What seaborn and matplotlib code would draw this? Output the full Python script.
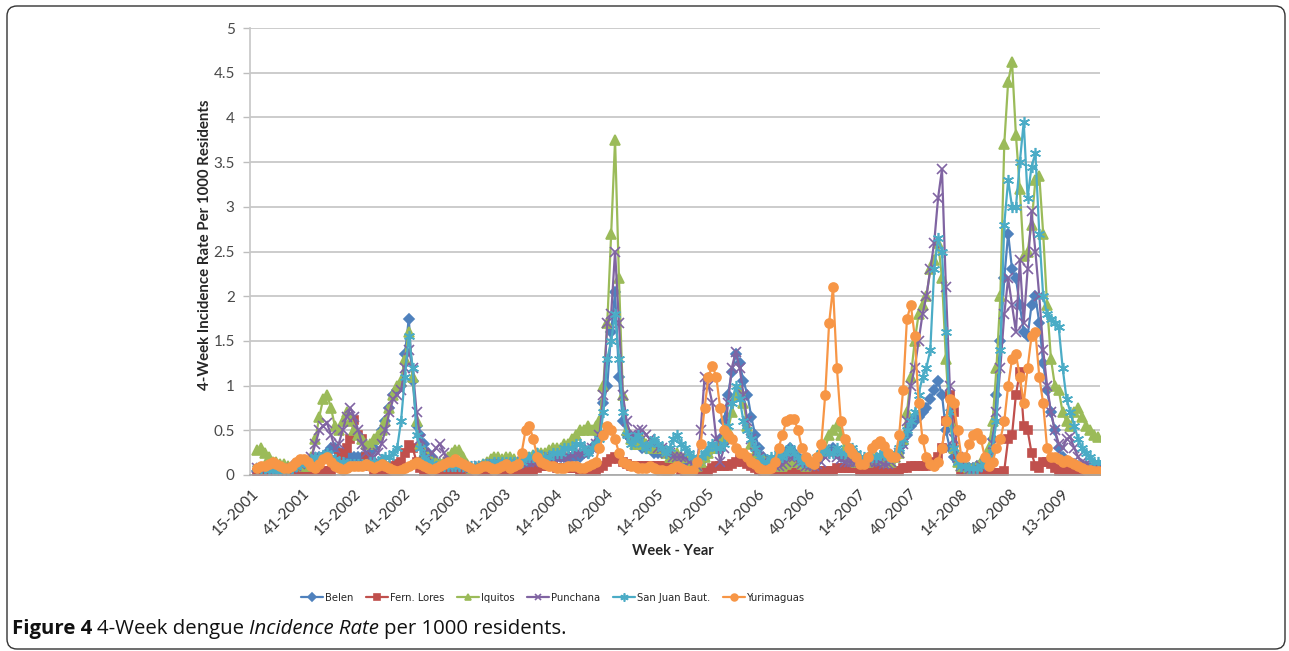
import matplotlib
matplotlib.use('Agg')
import matplotlib.pyplot as plt
from matplotlib.patches import FancyBboxPatch
import pandas as pd
import seaborn as sns

# week index 0 = week 15 of 2001, one value every 2 weeks
WEEKS = list(range(0, 433, 2))
TICK_WEEKS = list(range(0, 417, 26))
TICK_LABELS = ["15-2001", "41-2001", "15-2002", "41-2002", "15-2003", "41-2003",
               "14-2004", "40-2004", "14-2005", "40-2005", "14-2006", "40-2006",
               "14-2007", "40-2007", "14-2008", "40-2008", "13-2009"]

BELEN = [
    0.05, 0.05, 0.05, 0.05, 0.06, 0.06, 0.05, 0.05, 0.05, 0.06, 0.06, 0.08, 0.10,
    0.10, 0.12, 0.15, 0.20, 0.20, 0.25, 0.30, 0.30, 0.25, 0.25, 0.20, 0.20, 0.20,
    0.20, 0.20, 0.20, 0.25, 0.30, 0.40, 0.50, 0.60, 0.75, 0.90, 0.95, 1.00, 1.35,
    1.75, 1.05, 0.55, 0.45, 0.35, 0.25, 0.20, 0.15, 0.12, 0.10, 0.10, 0.10, 0.10,
    0.10, 0.08, 0.08, 0.07, 0.07, 0.08, 0.08, 0.08, 0.10, 0.10, 0.10, 0.10, 0.10,
    0.10, 0.10, 0.12, 0.12, 0.12, 0.15, 0.15, 0.15, 0.15, 0.15, 0.15, 0.18, 0.20,
    0.20, 0.20, 0.18, 0.20, 0.20, 0.20, 0.25, 0.25, 0.30, 0.35, 0.45, 0.80, 1.00,
    1.60, 2.05, 1.10, 0.60, 0.45, 0.40, 0.35, 0.35, 0.30, 0.30, 0.30, 0.25, 0.25,
    0.25, 0.25, 0.20, 0.20, 0.20, 0.15, 0.15, 0.12, 0.10, 0.10, 0.15, 0.20, 0.25,
    0.30, 0.30, 0.40, 0.60, 0.90, 1.15, 1.35, 1.25, 1.05, 0.90, 0.65, 0.45, 0.30,
    0.20, 0.15, 0.12, 0.12, 0.15, 0.20, 0.25, 0.30, 0.25, 0.20, 0.15, 0.12, 0.12,
    0.12, 0.15, 0.20, 0.25, 0.28, 0.30, 0.25, 0.20, 0.18, 0.15, 0.15, 0.15, 0.15,
    0.15, 0.15, 0.15, 0.15, 0.15, 0.15, 0.15, 0.15, 0.20, 0.25, 0.35, 0.45, 0.55,
    0.60, 0.65, 0.70, 0.75, 0.85, 0.95, 1.05, 0.90, 0.50, 0.30, 0.20, 0.15, 0.10,
    0.10, 0.08, 0.08, 0.10, 0.12, 0.15, 0.20, 0.40, 0.90, 1.50, 2.20, 2.70, 2.30,
    2.20, 1.90, 1.60, 1.55, 1.90, 2.00, 1.70, 1.25, 0.95, 0.70, 0.50, 0.30, 0.20,
    0.15, 0.12, 0.12, 0.10, 0.10, 0.10, 0.08, 0.08, 0.08]

FERN_LORES = [
    0.02, 0.02, 0.02, 0.02, 0.02, 0.02, 0.02, 0.02, 0.02, 0.02, 0.02, 0.02, 0.02,
    0.02, 0.02, 0.03, 0.05, 0.05, 0.05, 0.05, 0.10, 0.20, 0.25, 0.30, 0.40, 0.62,
    0.45, 0.40, 0.20, 0.10, 0.05, 0.05, 0.05, 0.05, 0.05, 0.10, 0.12, 0.15, 0.25,
    0.33, 0.30, 0.15, 0.08, 0.05, 0.03, 0.03, 0.02, 0.02, 0.02, 0.02, 0.02, 0.02,
    0.02, 0.02, 0.02, 0.02, 0.02, 0.02, 0.02, 0.02, 0.02, 0.02, 0.02, 0.02, 0.02,
    0.02, 0.02, 0.02, 0.02, 0.02, 0.03, 0.05, 0.08, 0.10, 0.10, 0.10, 0.10, 0.08,
    0.08, 0.08, 0.08, 0.08, 0.08, 0.05, 0.05, 0.05, 0.05, 0.05, 0.08, 0.10, 0.15,
    0.18, 0.20, 0.18, 0.15, 0.12, 0.10, 0.10, 0.10, 0.10, 0.10, 0.10, 0.10, 0.10,
    0.10, 0.10, 0.10, 0.08, 0.08, 0.06, 0.05, 0.05, 0.05, 0.05, 0.05, 0.05, 0.05,
    0.08, 0.10, 0.10, 0.10, 0.10, 0.12, 0.15, 0.18, 0.15, 0.12, 0.10, 0.08, 0.06,
    0.05, 0.05, 0.05, 0.05, 0.05, 0.05, 0.05, 0.05, 0.05, 0.05, 0.05, 0.05, 0.05,
    0.05, 0.05, 0.05, 0.05, 0.05, 0.05, 0.08, 0.08, 0.08, 0.08, 0.08, 0.08, 0.05,
    0.05, 0.05, 0.05, 0.05, 0.05, 0.05, 0.05, 0.05, 0.05, 0.05, 0.08, 0.08, 0.10,
    0.10, 0.10, 0.10, 0.10, 0.12, 0.15, 0.20, 0.30, 0.60, 0.90, 0.70, 0.20, 0.05,
    0.03, 0.02, 0.02, 0.02, 0.02, 0.02, 0.02, 0.02, 0.02, 0.02, 0.05, 0.40, 0.45,
    0.90, 1.15, 0.55, 0.50, 0.25, 0.10, 0.08, 0.15, 0.15, 0.12, 0.08, 0.05, 0.05,
    0.05, 0.05, 0.05, 0.05, 0.05, 0.05, 0.04, 0.04, 0.04]

IQUITOS = [
    0.28, 0.30, 0.25, 0.20, 0.15, 0.15, 0.12, 0.12, 0.10, 0.10, 0.12, 0.12, 0.10,
    0.10, 0.20, 0.40, 0.65, 0.85, 0.90, 0.75, 0.55, 0.50, 0.60, 0.70, 0.60, 0.50,
    0.45, 0.40, 0.35, 0.35, 0.40, 0.45, 0.50, 0.60, 0.75, 0.90, 1.00, 1.05, 1.30,
    1.60, 1.10, 0.60, 0.35, 0.25, 0.20, 0.15, 0.15, 0.12, 0.15, 0.20, 0.25, 0.28,
    0.28, 0.20, 0.12, 0.08, 0.08, 0.10, 0.12, 0.15, 0.18, 0.20, 0.20, 0.18, 0.20,
    0.20, 0.18, 0.15, 0.18, 0.20, 0.20, 0.22, 0.25, 0.25, 0.25, 0.28, 0.30, 0.30,
    0.30, 0.35, 0.35, 0.40, 0.45, 0.50, 0.50, 0.55, 0.50, 0.55, 0.60, 1.00, 1.70,
    2.70, 3.75, 2.20, 0.90, 0.50, 0.40, 0.35, 0.35, 0.40, 0.35, 0.30, 0.35, 0.30,
    0.30, 0.25, 0.20, 0.20, 0.25, 0.20, 0.20, 0.20, 0.15, 0.10, 0.15, 0.20, 0.25,
    0.30, 0.30, 0.35, 0.40, 0.50, 0.70, 0.90, 0.95, 0.80, 0.55, 0.35, 0.25, 0.20,
    0.18, 0.15, 0.15, 0.12, 0.10, 0.10, 0.12, 0.15, 0.15, 0.15, 0.12, 0.10, 0.12,
    0.15, 0.20, 0.25, 0.30, 0.45, 0.50, 0.55, 0.45, 0.30, 0.20, 0.18, 0.15, 0.15,
    0.15, 0.15, 0.18, 0.20, 0.20, 0.18, 0.15, 0.15, 0.20, 0.25, 0.40, 0.70, 1.10,
    1.50, 1.80, 1.90, 2.00, 2.30, 2.40, 2.60, 2.20, 1.30, 0.60, 0.30, 0.15, 0.10,
    0.10, 0.08, 0.08, 0.10, 0.15, 0.20, 0.30, 0.60, 1.20, 2.00, 3.70, 4.40, 4.62,
    3.80, 3.20, 2.45, 2.50, 2.80, 3.30, 3.35, 2.70, 1.90, 1.30, 1.00, 0.95, 0.70,
    0.60, 0.55, 0.70, 0.75, 0.65, 0.55, 0.50, 0.45, 0.42]

PUNCHANA = [
    0.08, 0.08, 0.06, 0.06, 0.05, 0.05, 0.05, 0.06, 0.06, 0.08, 0.10, 0.12, 0.15,
    0.15, 0.20, 0.35, 0.50, 0.55, 0.58, 0.45, 0.30, 0.35, 0.50, 0.65, 0.75, 0.65,
    0.50, 0.35, 0.25, 0.20, 0.20, 0.25, 0.35, 0.50, 0.70, 0.85, 0.90, 0.95, 1.20,
    1.40, 1.20, 0.70, 0.40, 0.25, 0.20, 0.25, 0.30, 0.35, 0.25, 0.15, 0.12, 0.10,
    0.10, 0.10, 0.08, 0.08, 0.08, 0.10, 0.10, 0.10, 0.12, 0.12, 0.12, 0.12, 0.12,
    0.12, 0.12, 0.12, 0.15, 0.15, 0.15, 0.15, 0.15, 0.18, 0.18, 0.20, 0.20, 0.20,
    0.20, 0.20, 0.20, 0.22, 0.25, 0.25, 0.25, 0.30, 0.30, 0.35, 0.45, 0.90, 1.70,
    1.80, 2.50, 1.70, 0.90, 0.60, 0.45, 0.45, 0.50, 0.50, 0.45, 0.40, 0.35, 0.30,
    0.30, 0.25, 0.25, 0.20, 0.20, 0.20, 0.20, 0.15, 0.12, 0.10, 0.50, 1.10, 1.00,
    0.80, 0.40, 0.15, 0.30, 0.80, 1.20, 1.38, 1.20, 0.90, 0.60, 0.40, 0.25, 0.20,
    0.15, 0.12, 0.10, 0.10, 0.10, 0.12, 0.15, 0.20, 0.20, 0.15, 0.12, 0.10, 0.10,
    0.10, 0.12, 0.15, 0.20, 0.25, 0.25, 0.20, 0.18, 0.15, 0.15, 0.15, 0.15, 0.15,
    0.15, 0.15, 0.15, 0.15, 0.15, 0.12, 0.12, 0.15, 0.20, 0.25, 0.35, 0.60, 1.00,
    1.20, 1.50, 1.80, 2.00, 2.30, 2.60, 3.10, 3.42, 2.10, 1.00, 0.40, 0.20, 0.10,
    0.08, 0.06, 0.06, 0.08, 0.10, 0.12, 0.20, 0.35, 0.70, 1.20, 1.80, 2.20, 1.90,
    1.60, 2.40, 1.70, 2.30, 2.95, 2.50, 2.00, 1.40, 1.00, 0.70, 0.50, 0.35, 0.30,
    0.40, 0.42, 0.30, 0.20, 0.15, 0.12, 0.10, 0.10, 0.10]

SAN_JUAN = [
    0.08, 0.08, 0.08, 0.06, 0.06, 0.06, 0.05, 0.05, 0.06, 0.08, 0.10, 0.12, 0.15,
    0.15, 0.18, 0.20, 0.20, 0.22, 0.25, 0.20, 0.18, 0.15, 0.15, 0.12, 0.12, 0.12,
    0.12, 0.12, 0.12, 0.15, 0.15, 0.15, 0.18, 0.20, 0.20, 0.25, 0.30, 0.60, 1.10,
    1.55, 1.20, 0.45, 0.30, 0.20, 0.15, 0.12, 0.10, 0.10, 0.10, 0.10, 0.10, 0.10,
    0.10, 0.10, 0.10, 0.10, 0.10, 0.10, 0.12, 0.12, 0.12, 0.15, 0.15, 0.15, 0.15,
    0.15, 0.15, 0.15, 0.15, 0.20, 0.20, 0.20, 0.25, 0.20, 0.20, 0.20, 0.25, 0.25,
    0.25, 0.30, 0.30, 0.30, 0.35, 0.35, 0.30, 0.25, 0.30, 0.35, 0.40, 0.70, 1.30,
    1.50, 1.80, 1.30, 0.70, 0.45, 0.35, 0.40, 0.45, 0.35, 0.30, 0.35, 0.40, 0.35,
    0.30, 0.25, 0.30, 0.40, 0.45, 0.35, 0.30, 0.25, 0.20, 0.15, 0.20, 0.25, 0.30,
    0.35, 0.30, 0.30, 0.35, 0.55, 0.80, 1.00, 0.85, 0.60, 0.50, 0.40, 0.30, 0.20,
    0.15, 0.15, 0.20, 0.20, 0.25, 0.20, 0.25, 0.30, 0.25, 0.20, 0.15, 0.15, 0.15,
    0.15, 0.20, 0.25, 0.30, 0.25, 0.25, 0.30, 0.25, 0.25, 0.30, 0.30, 0.25, 0.20,
    0.20, 0.20, 0.20, 0.20, 0.22, 0.25, 0.20, 0.20, 0.25, 0.30, 0.40, 0.50, 0.60,
    0.70, 0.90, 1.10, 1.20, 1.40, 2.30, 2.65, 2.50, 1.60, 0.70, 0.30, 0.15, 0.10,
    0.10, 0.08, 0.08, 0.08, 0.10, 0.15, 0.20, 0.30, 0.60, 1.40, 2.80, 3.30, 3.00,
    3.00, 3.50, 3.95, 3.10, 3.45, 3.60, 2.70, 2.00, 1.80, 1.75, 1.70, 1.65, 1.20,
    0.85, 0.70, 0.55, 0.40, 0.30, 0.25, 0.20, 0.15, 0.15]

YURIMAGUAS = [
    0.08, 0.10, 0.10, 0.12, 0.15, 0.12, 0.10, 0.08, 0.08, 0.10, 0.15, 0.18, 0.18,
    0.15, 0.10, 0.08, 0.12, 0.18, 0.20, 0.15, 0.10, 0.08, 0.06, 0.08, 0.10, 0.10,
    0.10, 0.10, 0.12, 0.10, 0.08, 0.10, 0.12, 0.10, 0.08, 0.06, 0.05, 0.06, 0.08,
    0.10, 0.12, 0.15, 0.12, 0.10, 0.08, 0.06, 0.08, 0.10, 0.12, 0.15, 0.15, 0.18,
    0.15, 0.12, 0.10, 0.08, 0.06, 0.08, 0.10, 0.10, 0.08, 0.06, 0.08, 0.10, 0.12,
    0.08, 0.10, 0.12, 0.25, 0.50, 0.55, 0.40, 0.20, 0.15, 0.12, 0.10, 0.10, 0.08,
    0.08, 0.08, 0.10, 0.10, 0.10, 0.08, 0.08, 0.10, 0.12, 0.15, 0.30, 0.45, 0.55,
    0.50, 0.40, 0.25, 0.15, 0.12, 0.10, 0.10, 0.08, 0.08, 0.08, 0.10, 0.08, 0.06,
    0.06, 0.05, 0.06, 0.08, 0.10, 0.08, 0.06, 0.05, 0.06, 0.15, 0.35, 0.75, 1.10,
    1.22, 1.10, 0.75, 0.50, 0.45, 0.40, 0.30, 0.25, 0.25, 0.20, 0.15, 0.12, 0.08,
    0.06, 0.06, 0.08, 0.15, 0.30, 0.45, 0.60, 0.63, 0.63, 0.50, 0.30, 0.20, 0.15,
    0.12, 0.20, 0.35, 0.90, 1.70, 2.10, 1.20, 0.60, 0.40, 0.30, 0.25, 0.20, 0.12,
    0.12, 0.20, 0.30, 0.35, 0.38, 0.32, 0.25, 0.20, 0.20, 0.45, 0.95, 1.75, 1.90,
    1.55, 0.80, 0.40, 0.20, 0.12, 0.10, 0.15, 0.30, 0.60, 0.85, 0.80, 0.50, 0.20,
    0.20, 0.35, 0.45, 0.47, 0.40, 0.20, 0.10, 0.15, 0.30, 0.40, 0.60, 1.00, 1.30,
    1.35, 1.10, 0.80, 1.20, 1.55, 1.60, 1.10, 0.80, 0.30, 0.20, 0.20, 0.18, 0.15,
    0.17, 0.15, 0.12, 0.10, 0.08, 0.06, 0.06, 0.05, 0.05]

# name, values, colour, marker, marker size
SERIES = [
    ("Belen", BELEN, "#4F81BD", "D", 5.5),
    ("Fern. Lores", FERN_LORES, "#C0504D", "s", 5.5),
    ("Iquitos", IQUITOS, "#9BBB59", "^", 6.5),
    ("Punchana", PUNCHANA, "#8064A2", "x", 6.5),
    ("San Juan Baut.", SAN_JUAN, "#4BACC6", (6, 2, 0), 8),
    ("Yurimaguas", YURIMAGUAS, "#F79646", "o", 6.5),
]

rows = []
for name, vals, *_ in SERIES:
    for w, v in zip(WEEKS, vals):
        rows.append({"district": name, "week": w, "rate": v})
df = pd.DataFrame(rows)

sns.set_theme(style="whitegrid")
plt.rcParams['font.family'] = ['Lato', 'DejaVu Sans']

W, H = 1289, 651
fig = plt.figure(figsize=(W / 100, H / 100), dpi=100)
ax = fig.add_axes([250 / W, 1 - 475 / H, 850 / W, 447 / H])

for name, vals, color, marker, ms in SERIES:
    sns.lineplot(data=df[df.district == name], x="week", y="rate", ax=ax,
                 color=color, marker=marker, markersize=ms, lw=1.6,
                 markeredgecolor=color, markerfacecolor=color,
                 markeredgewidth=1.2, label=name, errorbar=None, sort=False)

ax.set_xlim(-3.6, 433.2)
ax.set_ylim(0, 5)
ax.set_yticks([i * 0.5 for i in range(11)])
ax.set_yticklabels([f"{i * 0.5:g}" for i in range(11)])
ax.set_xticks(TICK_WEEKS)
ax.set_xticklabels(TICK_LABELS, rotation=45, ha='right', va='center',
                   rotation_mode='anchor')
ax.tick_params(axis='x', length=0, pad=12, labelsize=11, labelcolor='#333333')
ax.tick_params(axis='y', length=5, width=1, color='#bdbdbd', pad=6,
               labelsize=11, labelcolor='#4a4a4a', left=True)
ax.grid(axis='x', visible=False)
ax.grid(axis='y', color='#c8c8c8', lw=1.3)
for s in ['top', 'right']:
    ax.spines[s].set_visible(False)
ax.spines['left'].set_color('#c8c8c8')
ax.spines['bottom'].set_color('#a6a6a6')
ax.spines['bottom'].set_linewidth(1.2)

ax.set_ylabel("4-Week Incidence Rate Per 1000 Residents", fontsize=10.8,
              fontweight='bold', color='#262626', va='center')
ax.yaxis.set_label_coords((205 - 250) / 850, (475 - 245) / 447)
ax.set_xlabel("Week - Year", fontsize=10.5, fontweight='bold', color='#262626',
              va='center')
ax.xaxis.set_label_coords((673 - 250) / 850, (475 - 551) / 447)

handles, labels = ax.get_legend_handles_labels()
ax.get_legend().remove()
fig.legend(handles, labels, loc='center', bbox_to_anchor=(553 / W, 1 - 598 / H),
           ncol=6, frameon=False, handlelength=2.0, columnspacing=1.1,
           handletextpad=0.2, markerscale=0.75,
           prop={'family': 'DejaVu Sans', 'stretch': 'condensed', 'size': 8})

# rounded frame around the figure
frame = FancyBboxPatch((0.07, 0.02), 12.78, 6.43,
                       boxstyle="round,pad=0,rounding_size=0.1",
                       transform=fig.dpi_scale_trans, fill=False,
                       ec='#333333', lw=1.0)
fig.add_artist(frame)

# caption in mixed styles
renderer = fig.canvas.get_renderer()
x = 12
for txt, kw in [("Figure 4", dict(weight='bold')), ("4-Week dengue", {}),
                ("Incidence Rate", dict(style='italic')),
                ("per 1000 residents.", {})]:
    t = fig.text(x / W, 17 / H, txt, fontsize=14.7, family='Open Sans',
                 va='baseline', color='#111111', **kw)
    x = t.get_window_extent(renderer).x1 + 5

fig.savefig("out.png", dpi=100)
